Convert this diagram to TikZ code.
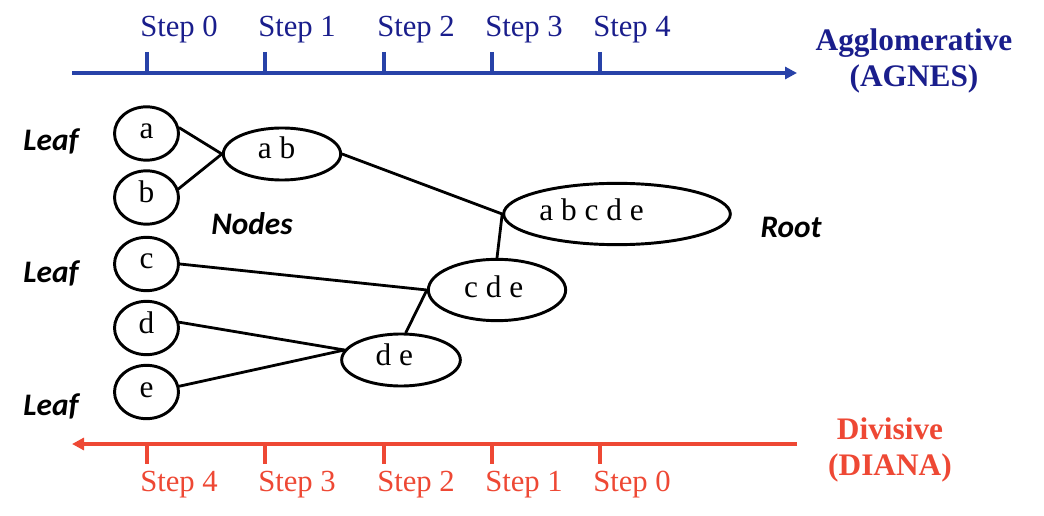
\documentclass[tikz,border=0pt]{standalone}
\usepackage{fontspec}
\setmainfont{Liberation Serif}
\newfontfamily\calfont{Carlito}
\usetikzlibrary{shapes.geometric,arrows.meta}
\definecolor{aglline}{RGB}{40,66,168}
\definecolor{agltext}{RGB}{26,30,140}
\definecolor{divred}{RGB}{238,72,52}
\begin{document}
\begin{tikzpicture}[x=0.75pt,y=-0.75pt,
  cluster/.style={draw=black, line width=2.2pt, ellipse, inner sep=0pt,
    font=\fontsize{23.5}{25}\selectfont, text height=8.5pt, text depth=1pt},
  lowtext/.style={text height=11.5pt},
  link/.style={line width=2.1pt, line cap=round},
  axisline/.style={line width=2.7pt},
  steplabel/.style={font=\fontsize{23}{25}\selectfont, anchor=west, inner sep=0pt},
  tag/.style={font=\calfont\bfseries\itshape\fontsize{23.5}{25}\selectfont, inner sep=0pt},
  method/.style={font=\bfseries\fontsize{23.5}{27}\selectfont, align=center, inner sep=0pt}
]
\useasboundingbox (0,0) rectangle (1044,516);

% agglomerative time axis
\coordinate (ts) at (72,73);
\coordinate (te) at (797,73);
\draw[axisline, aglline, -{Triangle[length=9pt,width=9pt]}] (ts) -- (te);
\foreach \x/\s in {147/0,265/1,384/2,492/3,600/4}{
  \draw[axisline, aglline] (\x,52) -- (\x,73);
  \node[steplabel, text=agltext] (top\s) at (\x-7,30) {Step \s};
}
\node[method, text=agltext] (agnes) at (914,61) {Agglomerative\\(AGNES)};

% divisive time axis
\coordinate (bs) at (797,444);
\coordinate (be) at (72,444);
\draw[axisline, divred, -{Triangle[length=9pt,width=9pt]}] (bs) -- (be);
\foreach \x/\s in {147/4,265/3,384/2,492/1,600/0}{
  \draw[axisline, divred] (\x,444) -- (\x,464);
  \node[steplabel, text=divred] (bot\s) at (\x-7,485) {Step \s};
}
\node[method, text=divred] (diana) at (890,450) {Divisive\\(DIANA)};

% clusters
\node[cluster, minimum width=48pt, minimum height=40pt] (a) at (146.5,133.5) {a};
\node[cluster, minimum width=48pt, minimum height=40pt] (b) at (146.5,197.5) {b};
\node[cluster, minimum width=48pt, minimum height=40pt] (c) at (146.5,264) {c};
\node[cluster, minimum width=48pt, minimum height=40pt] (d) at (146.5,328) {d};
\node[cluster, minimum width=48pt, minimum height=40pt] (e) at (146.5,392) {e};
\node[cluster, minimum width=88pt, minimum height=39pt] (ab) at (282,154) {a b\kern8pt};
\node[cluster, lowtext, minimum width=170pt, minimum height=46pt] (abcde) at (617,214) {a b c d e\kern38pt};
\node[cluster, lowtext, minimum width=103pt, minimum height=46pt] (cde) at (497,290) {c d e\kern5pt};
\node[cluster, minimum width=89pt, minimum height=39pt] (de) at (401,360) {d e\kern10pt};

% merges
\draw[link] (a.10) -- (ab.west);
\draw[link] (b.15) -- (ab.west);
\draw[link] (ab.east) -- (abcde.west);
\draw[link] (abcde.west) -- (cde.north);
\draw[link] (c.east) -- (cde.west);
\draw[link] (de.80) -- (cde.west);
\draw[link] (d.10) -- (de.170);
\draw[link] (e.10) -- (de.170);

% annotations
\node[tag] (leaf1) at (51,141) {Leaf};
\node[tag] (leaf2) at (51,273) {Leaf};
\node[tag] (leaf3) at (51,406) {Leaf};
\node[tag] (nodes) at (252,224) {Nodes};
\node[tag] (root) at (791,227) {Root};
\end{tikzpicture}
\end{document}
